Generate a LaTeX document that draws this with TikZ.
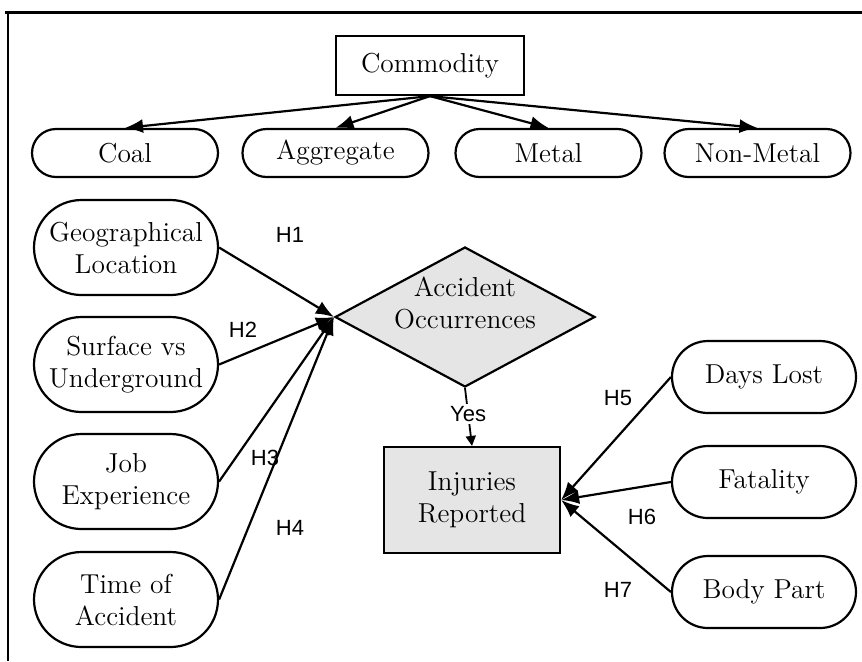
\documentclass[tikz,border=0pt]{standalone}
\usepackage{fontspec}
\newfontfamily\hlabelfont{Liberation Sans}
\usetikzlibrary{shapes.geometric, shapes.misc, arrows.meta}

\tikzset{
  pill/.style={draw, rounded rectangle, line width=1.1pt, align=center, inner sep=1pt,
    minimum width=94pt, font=\fontsize{13.7}{16}\selectfont},
  plainbox/.style={draw, rectangle, line width=1.1pt, align=center, inner sep=1pt,
    font=\fontsize{13.7}{16}\selectfont},
  decision/.style={draw, diamond, aspect=1.86, fill=gray!20, line width=1.1pt, inner sep=0pt,
    minimum width=130pt, minimum height=70pt, font=\fontsize{13.7}{16}\selectfont},
  hlabel/.style={font=\hlabelfont\fontsize{11}{13}\selectfont, inner sep=1pt},
  bigarrow/.style={line width=1.1pt, -{Latex[length=9pt, width=7pt]}},
}

\begin{document}
\begin{tikzpicture}[x=0.5pt, y=-0.5pt]
  \useasboundingbox (0,0) rectangle (862,661);

  % frame
  \draw[line width=1.5pt] (5,12.7) -- (862,12.7);
  \draw[line width=0.7pt] (8,12.7) -- (8,661);

  % nodes
  \node[plainbox, minimum width=94pt, minimum height=29.5pt] (com) at (430, 65.5) {Commodity};
  \node[pill, minimum width=95pt, minimum height=24pt] (coal)  at (125, 153) {Coal};
  \node[pill, minimum width=95pt, minimum height=24pt] (agg)   at (335.5, 153) {Aggregate};
  \node[pill, minimum width=95pt, minimum height=24pt] (metal) at (548.5, 153) {Metal};
  \node[pill, minimum width=95pt, minimum height=24pt] (nonm)  at (757.5, 153) {Non-Metal};

  \node[pill, minimum height=47.5pt] (geo)  at (126, 247.5) {Geographical\\Location};
  \node[pill, minimum height=47.5pt] (surf) at (126, 364.5) {Surface vs\\Underground};
  \node[pill, minimum height=47.5pt] (job)  at (126, 481.5) {Job\\Experience};
  \node[pill, minimum height=47.5pt] (time) at (126, 599.5) {Time of\\Accident};

  \node[decision] (acc) at (465, 317)
    {\raisebox{2pt}[0pt][0pt]{\begin{tabular}{@{}c@{}}Accident\\Occurrences\end{tabular}}};
  \node[plainbox, fill=gray!20, minimum width=88pt, minimum height=53pt] (inj) at (472, 500) {Injuries\\Reported};

  \node[pill, minimum height=36pt] (days) at (764, 377) {Days Lost};
  \node[pill, minimum height=36pt] (fat)  at (764, 482) {Fatality};
  \node[pill, minimum height=36pt] (body) at (764, 592) {Body Part};

  % arcs
  \draw[bigarrow] (com.south) to (coal.north);
  \draw[bigarrow] (com.south) to (agg.north);
  \draw[bigarrow] (com.south) to (metal.north);
  \draw[bigarrow] (com.south) to (nonm.north);

  \draw[bigarrow] (geo.east)  to (acc.west);
  \draw[bigarrow] (surf.east) to (acc.west);
  \draw[bigarrow] (job.east)  to (acc.west);
  \draw[bigarrow] (time.east) to (acc.west);

  \draw[line width=0.9pt, -{Triangle[length=5pt, width=5pt]}] (acc.south) to
    node[hlabel, fill=white, pos=0.45] (yes) {Yes} (inj.north);

  \draw[bigarrow] (days.west) to (inj.east);
  \draw[bigarrow] (fat.west)  to (inj.east);
  \draw[bigarrow] (body.west) to (inj.east);

  % names of arcs
  \node[hlabel] (h1) at (290, 235) {H1};
  \node[hlabel] (h2) at (243, 330) {H2};
  \node[hlabel] (h3) at (265, 458) {H3};
  \node[hlabel] (h4) at (290, 528) {H4};
  \node[hlabel] (h5) at (618, 398) {H5};
  \node[hlabel] (h6) at (642, 517) {H6};
  \node[hlabel] (h7) at (618, 590) {H7};

\end{tikzpicture}
\end{document}
